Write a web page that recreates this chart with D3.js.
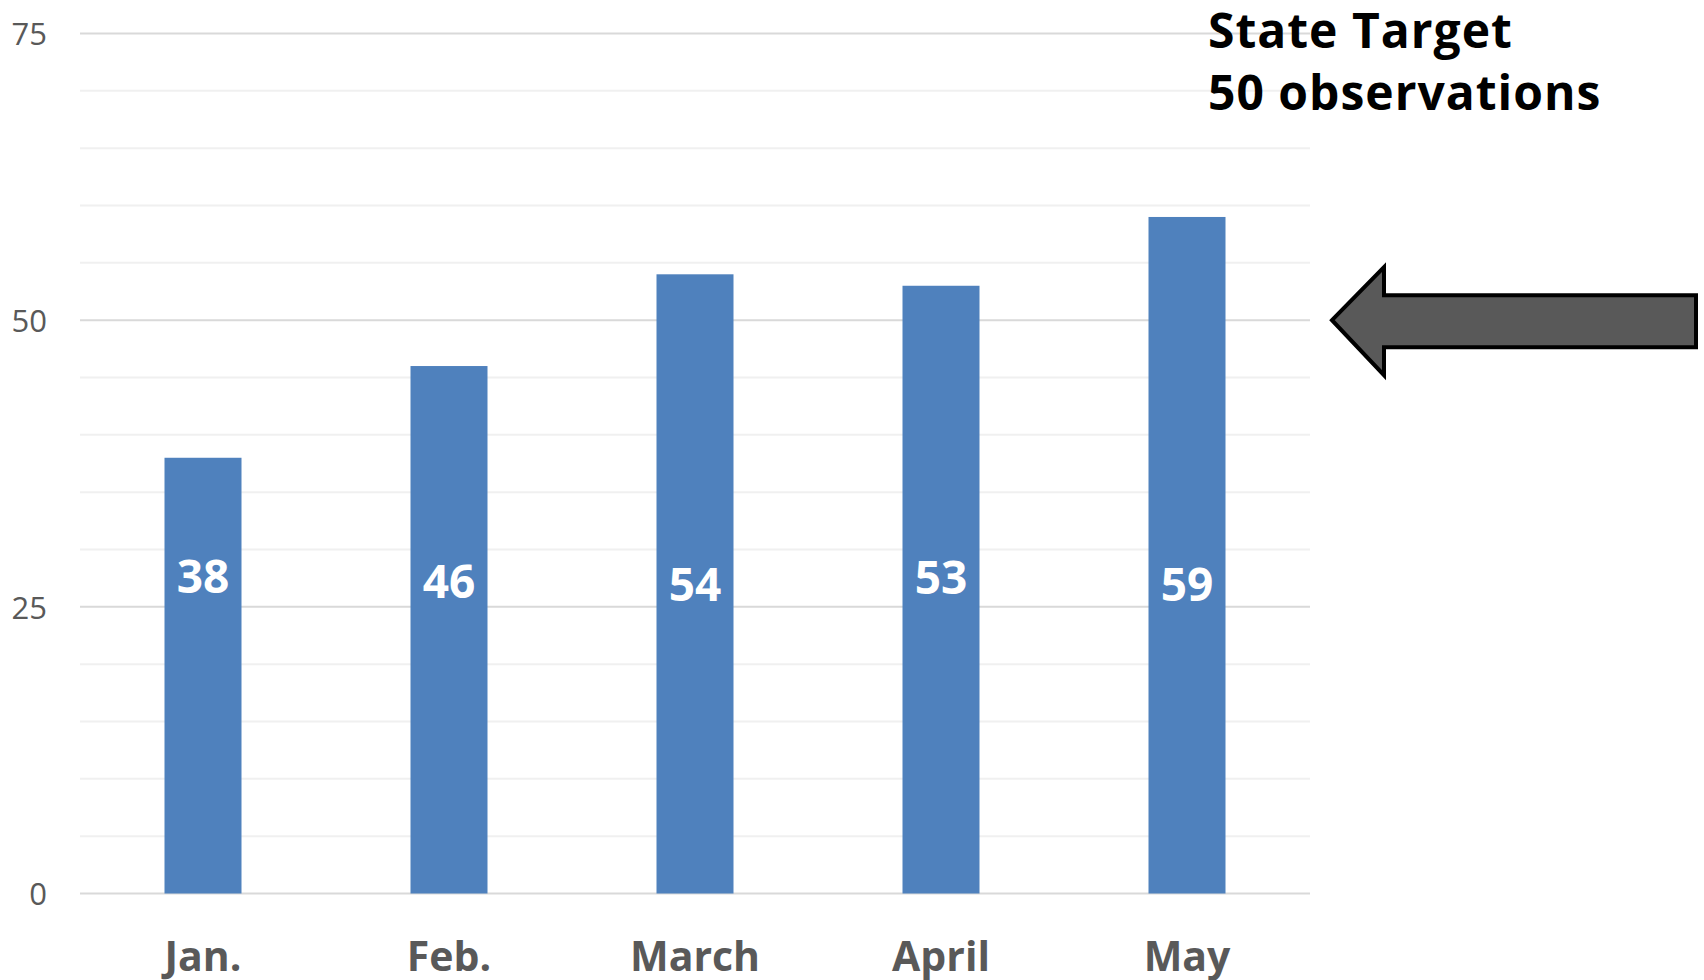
<!DOCTYPE html>
<html><head><meta charset="utf-8">
<script src="https://cdn.jsdelivr.net/npm/d3@7"></script>
<style>html,body{margin:0;padding:0;background:#fff;}svg{display:block;}</style>
</head><body>
<svg id="chart" width="1704" height="980"></svg>
<script>
(function () {
const categories = ["Jan.", "Feb.", "March", "April", "May"];
const values = [38, 46, 54, 53, 59];
const majorTicks = [0, 25, 50, 75];
const minorTicks = [5, 10, 15, 20, 30, 35, 40, 45, 55, 60, 65, 70];
const annotationLines = ["State Target", "50 observations"];
const targetValue = 50;
// small manual vertical nudges of the in-bar labels (px), as placed in the original
const labelNudge = [0, 5, 8, 1, 8];

const svg = d3.select("#chart");
const font = "'Open Sans', 'Noto Sans', sans-serif";
const pLeft = 80, pRight = 1310, pTop = 33.5, pBottom = 893.5;

const x = d3.scaleBand().domain(categories).range([pLeft, pRight]).paddingInner(0.687).paddingOuter(0.3435);
const y = d3.scaleLinear().domain([0, 75]).range([pBottom, pTop]);

svg.append("g").selectAll("line").data(minorTicks).join("line")
  .attr("x1", pLeft).attr("x2", pRight)
  .attr("y1", d => y(d)).attr("y2", d => y(d))
  .attr("stroke", "#f0f0f0").attr("stroke-width", 2);
svg.append("g").selectAll("line").data(majorTicks).join("line")
  .attr("x1", pLeft).attr("x2", pRight)
  .attr("y1", d => y(d)).attr("y2", d => y(d))
  .attr("stroke", "#d9d9d9").attr("stroke-width", 2);

const yAxis = d3.axisLeft(y).tickValues(majorTicks).tickSize(0).tickPadding(0);
const ya = svg.append("g").attr("transform", "translate(47,0)").call(yAxis);
ya.select(".domain").remove();
ya.selectAll("text").attr("font-family", font).attr("font-size", 31).attr("fill", "#595959").attr("dy", "0.36em");

svg.append("g").selectAll("rect").data(values).join("rect")
  .attr("x", (d, i) => x(categories[i]))
  .attr("width", x.bandwidth())
  .attr("y", d => y(d))
  .attr("height", d => y(0) - y(d))
  .attr("fill", "#4f81bd");

svg.append("g").selectAll("text").data(values).join("text")
  .attr("x", (d, i) => x(categories[i]) + x.bandwidth() / 2)
  .attr("y", (d, i) => y(26.55) + 4 + labelNudge[i])
  .attr("text-anchor", "middle")
  .attr("font-family", font).attr("font-weight", "bold").attr("font-size", 46)
  .attr("fill", "#ffffff")
  .text(d => d);

const xAxis = d3.axisBottom(x).tickSize(0).tickPadding(0);
const xa = svg.append("g").attr("transform", `translate(0,${pBottom})`).call(xAxis);
xa.select(".domain").remove();
xa.selectAll("text").attr("font-family", font).attr("font-weight", "bold").attr("font-size", 41)
  .attr("fill", "#595959").attr("dy", null).attr("y", 77);

svg.append("g").selectAll("text").data(annotationLines).join("text")
  .attr("x", 1208).attr("y", (d, i) => 48 + i * 62)
  .attr("font-family", font).attr("font-weight", "bold").attr("font-size", 48)
  .attr("letter-spacing", 1)
  .attr("fill", "#000").text(d => d);

const ty = y(targetValue);
const arrow = d3.path();
arrow.moveTo(1332, ty);
arrow.lineTo(1384, ty - 53);
arrow.lineTo(1384, ty - 25);
arrow.lineTo(1696, ty - 25);
arrow.lineTo(1696, ty + 27);
arrow.lineTo(1384, ty + 27);
arrow.lineTo(1384, ty + 55);
arrow.closePath();
svg.append("path").attr("d", arrow.toString())
  .attr("fill", "#595959").attr("stroke", "#000").attr("stroke-width", 4).attr("stroke-linejoin", "miter");
})();
</script>
</body></html>
